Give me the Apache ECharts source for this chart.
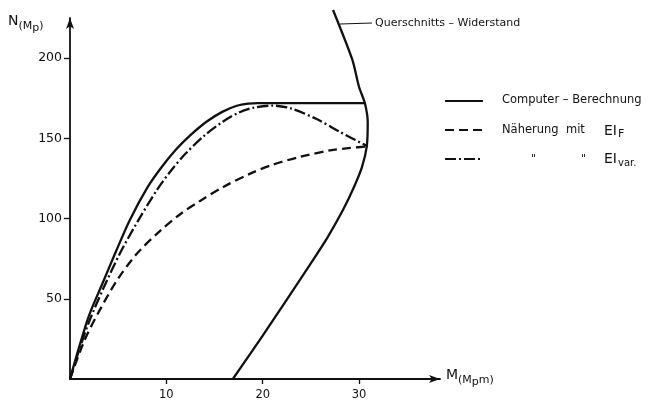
<!DOCTYPE html>
<html>
<head>
<meta charset="utf-8">
<script src="https://cdn.jsdelivr.net/npm/echarts@6/dist/echarts.min.js"></script>
<style>
  html, body { margin: 0; padding: 0; background: #fff; }
  #chart { width: 656px; height: 405px; }
</style>
</head>
<body>
<div id="chart"></div>
<script>
// Interaction diagram N–M: points are [M (Mp·m), N (Mp)]
const xTicks = [10, 20, 30];
const yTicks = [50, 100, 150, 200];

const computerCurve = [
  [0, 0], [1, 21], [2, 40], [3.4, 60], [4.7, 78.5], [6.2, 99], [8.1, 120],
  [9.5, 132], [11, 143], [12.5, 152], [14.2, 160.5], [15.8, 166.5],
  [17.3, 170.3], [18.5, 171.7], [19.5, 172], [30.6, 172]
];
const eiFCurve = [
  [0, 0], [1.5, 24], [3, 42], [4.9, 61.7], [7, 78.5], [9.3, 92], [11.5, 103],
  [13.5, 111], [16, 120], [18.7, 128], [21, 133.5], [23.9, 138.5],
  [27, 142.5], [29.1, 144], [30.9, 145]
];
const eiVarCurve = [
  [0, 0], [1, 19], [2, 36], [3.5, 57], [5.2, 78.5], [7.1, 99], [9.1, 118.5],
  [10.5, 130], [12, 140.5], [14, 152], [15.9, 160.5], [17.5, 166], [19, 169],
  [21, 170.4], [23, 168.5], [25.6, 162], [28, 154], [30.9, 145]
];
const sectionResistance = [
  [16.9, 0], [20, 27], [25.2, 74], [26.7, 88], [28.3, 105], [29.5, 120],
  [30.3, 132], [30.8, 145], [30.9, 160], [30.6, 172], [30, 182], [29.3, 199],
  [27.3, 230]
];

const ink = '#111';
const font = 'DejaVu Sans';

const chart = echarts.init(document.getElementById('chart'), null, { renderer: 'canvas' });

const lineSeries = (name, data, type, smooth) => ({
  name, type: 'line', data, smooth, showSymbol: false, symbol: 'none',
  clip: false, animation: false,
  lineStyle: { color: ink, width: 2.3, type }
});

chart.setOption({
  backgroundColor: '#fff',
  animation: false,
  grid: { left: 70, right: 216, top: 18, bottom: 26 },
  xAxis: {
    type: 'value', min: 0, max: 38.4,
    axisLine: { onZero: false, symbol: ['none', 'arrow'], symbolSize: [6, 11], lineStyle: { color: ink, width: 1.8 } },
    axisTick: { show: true, length: 5, lineStyle: { color: ink, width: 1.3 }, customValues: xTicks },
    axisLabel: { color: ink, fontFamily: font, fontSize: 11.5, margin: 10, customValues: xTicks },
    splitLine: { show: false }
  },
  yAxis: {
    type: 'value', min: 0, max: 225,
    axisLine: { onZero: false, symbol: ['none', 'arrow'], symbolSize: [6, 11], lineStyle: { color: ink, width: 1.8 } },
    axisTick: { show: true, length: 6, lineStyle: { color: ink, width: 1.3 }, customValues: yTicks },
    axisLabel: { color: ink, fontFamily: font, fontSize: 12.5, margin: 8, customValues: yTicks },
    splitLine: { show: false }
  },
  series: [
    lineSeries('Computer - Berechnung', computerCurve, 'solid', 0.3),
    lineSeries('Näherung mit EI_F', eiFCurve, [9, 5], 0.3),
    lineSeries('EI var.', eiVarCurve, [11, 3, 2, 3], 0.3),
    lineSeries('Querschnitts - Widerstand', sectionResistance, 'solid', 0.25)
  ],
  graphic: [
    // axis titles
    {
      type: 'text', left: 8, top: 14,
      style: {
        text: 'N{s|(M}{ss|p}{s|)}', font: '14px ' + font, fill: ink,
        rich: {
          s: { fontFamily: font, fontSize: 11, padding: [10, 0, 0, 0], fill: ink },
          ss: { fontFamily: font, fontSize: 11, padding: [14, 0, 0, 0], fill: ink }
        }
      }
    },
    {
      type: 'text', left: 446, top: 368,
      style: {
        text: 'M{s|(M}{ss|p}{s|m)}', font: '14px ' + font, fill: ink,
        rich: {
          s: { fontFamily: font, fontSize: 11, padding: [10, 0, 0, 0], fill: ink },
          ss: { fontFamily: font, fontSize: 11, padding: [14, 0, 0, 0], fill: ink }
        }
      }
    },
    // leader and label of the section resistance curve
    { type: 'line', shape: { x1: 340, y1: 24, x2: 372, y2: 23 }, style: { stroke: ink, lineWidth: 1.2 } },
    { type: 'text', x: 375, y: 23, style: { text: 'Querschnitts – Widerstand', font: '11px ' + font, fill: ink, verticalAlign: 'middle' } },
    // legend
    { type: 'line', shape: { x1: 445, y1: 101, x2: 483, y2: 101 }, style: { stroke: ink, lineWidth: 2 } },
    { type: 'line', shape: { x1: 445, y1: 130, x2: 483, y2: 130 }, style: { stroke: ink, lineWidth: 2, lineDash: [9, 5] } },
    { type: 'line', shape: { x1: 445, y1: 159, x2: 483, y2: 159 }, style: { stroke: ink, lineWidth: 2, lineDash: [11, 3, 2, 3] } },
    { type: 'text', x: 502, y: 100, style: { text: 'Computer – Berechnung', font: '11.5px ' + font, fill: ink, verticalAlign: 'middle' } },
    { type: 'text', x: 502, y: 130, style: { text: 'Näherung  mit', font: '11.5px ' + font, fill: ink, verticalAlign: 'middle' } },
    {
      type: 'text', x: 604, y: 122,
      style: {
        text: 'EI{s|F}', font: '14px ' + font, fill: ink,
        rich: { s: { fontFamily: font, fontSize: 11, padding: [7, 0, 0, 1], fill: ink } }
      }
    },
    { type: 'text', x: 531, y: 159, style: { text: '"', font: '11px ' + font, fill: ink, verticalAlign: 'middle' } },
    { type: 'text', x: 581, y: 159, style: { text: '"', font: '11px ' + font, fill: ink, verticalAlign: 'middle' } },
    {
      type: 'text', x: 604, y: 151,
      style: {
        text: 'EI{s|var.}', font: '14px ' + font, fill: ink,
        rich: { s: { fontFamily: font, fontSize: 10, padding: [7, 0, 0, 1], fill: ink } }
      }
    }
  ]
});
</script>
</body>
</html>
